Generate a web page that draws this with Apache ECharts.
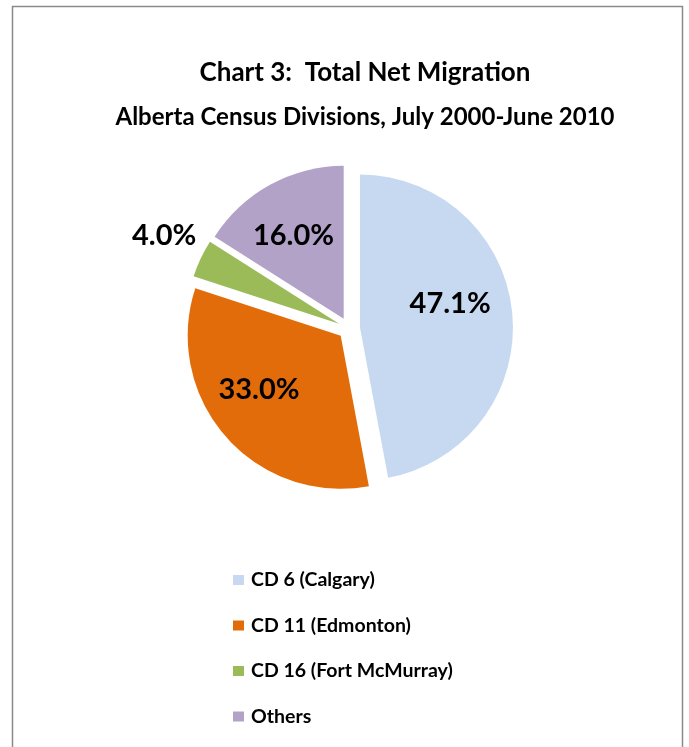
<!DOCTYPE html>
<html><head><meta charset="utf-8">
<script src="https://cdn.jsdelivr.net/npm/echarts@6/dist/echarts.min.js"></script>
<style>html,body{margin:0;padding:0;background:#fff}#c{width:689px;height:747px}</style>
</head><body><div id="c"></div>
<script>
const categories = ['CD 6 (Calgary)', 'CD 11 (Edmonton)', 'CD 16 (Fort McMurray)', 'Others'];
const shares = [47.1, 33.0, 4.0, 16.0];
const colors = ['#C6D9F1', '#E36C0A', '#9BBB59', '#B3A2C7'];
const labelOffsets = [[11, -16], [-22, 1], [-103, -54], [-12, -14]];
const FONT = 'Lato';

const chart = echarts.init(document.getElementById('c'), null, {renderer: 'canvas'});
chart.setOption({
  animation: false,
  backgroundColor: '#fff',
  graphic: [{
    type: 'rect', shape: {x: 12.5, y: 6.5, width: 670, height: 760},
    style: {fill: 'none', stroke: '#8a8a8a', lineWidth: 1.5}, silent: true
  }],
  title: [
    {text: 'Chart 3:  Total Net Migration', left: 365, top: 60, textAlign: 'center', padding: 0,
     textStyle: {fontFamily: FONT, fontWeight: 'bold', fontSize: 26, color: '#000'}},
    {text: 'Alberta Census Divisions, July 2000-June 2010', left: 365, top: 105, textAlign: 'center', padding: 0,
     textStyle: {fontFamily: FONT, fontWeight: 'bold', fontSize: 24, color: '#000'}}
  ],
  legend: {
    orient: 'vertical', left: 233, top: 570, padding: 0, itemWidth: 11, itemHeight: 10, itemGap: 25.5,
    icon: 'rect', selectedMode: false,
    textStyle: {fontFamily: FONT, fontWeight: 'bold', fontSize: 19.5, lineHeight: 20, color: '#000', padding: [0, 0, 0, 2]},
    data: categories
  },
  series: [{
    type: 'pie', center: [349, 328.5], radius: 153, startAngle: 90, clockwise: true,
    selectedMode: 'multiple', selectedOffset: 11, avoidLabelOverlap: false,
    emphasis: {disabled: true},
    label: {show: true, position: 'inside', fontFamily: FONT, fontWeight: 'bold', fontSize: 29, color: '#000',
            formatter: p => p.value.toFixed(1) + '%'},
    labelLine: {show: false},
    labelLayout: p => ({dx: labelOffsets[p.dataIndex][0], dy: labelOffsets[p.dataIndex][1]}),
    data: categories.map((n, i) => ({
      name: n, value: shares[i], selected: true,
      itemStyle: {color: colors[i]}
    }))
  }]
});
</script></body></html>
